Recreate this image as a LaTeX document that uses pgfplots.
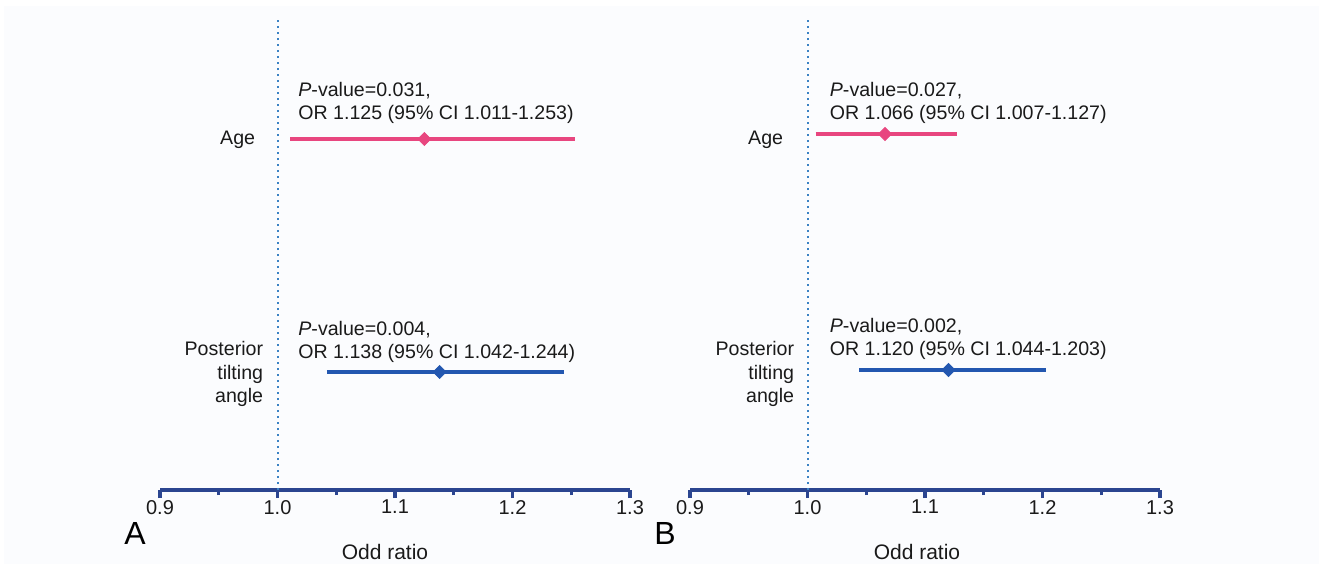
\documentclass[border=0pt]{standalone}
\usepackage{pgfplots}
\pgfplotsset{compat=1.18}
\usepackage{fontspec}
\setmainfont{Liberation Sans}
\definecolor{pinkc}{HTML}{E8467F}
\definecolor{bluec}{HTML}{2357B0}
\definecolor{navyc}{HTML}{2B4590}
\definecolor{dotc}{HTML}{3B82C4}
\definecolor{textc}{HTML}{1A1A1A}
\definecolor{bgc}{HTML}{FBFCFE}
\tikzset{lab/.style={font=\fontsize{9.8}{11.5}\selectfont, text=textc, inner sep=0pt}}
\pgfplotsset{
  forest/.style={
    scale only axis, width=235pt, height=235pt,
    xmin=0.9, xmax=1.3, ymin=0, ymax=470,
    axis x line*=bottom, axis y line=none,
    axis line style={-, navyc, line width=1.7pt},
    xtick={0.9,1.0,1.1,1.2,1.3},
    minor xtick={0.95,1.05,1.15,1.25},
    tick align=outside,
    major tick length=4pt, minor tick length=2.5pt,
    tick style={navyc, line width=1.7pt},
    minor tick style={navyc, line width=1.7pt},
    xticklabel style={font=\fontsize{10}{11}\selectfont, text=textc, yshift=2.5pt},
    /pgf/number format/.cd, fixed, fixed zerofill, precision=1, assume math mode=true,
    /pgfplots/.cd,
    clip=false,
  },
  reflineA/.style={dotc, line width=1pt, dash pattern=on 1pt off 2pt, no marks},
  dmark/.style={only marks, mark=square*, mark size=2.3pt, mark options={rotate=45}},
}
\begin{document}
\begin{tikzpicture}
\fill[bgc] (2pt,0) rectangle (659.5pt,279pt);
\path[use as bounding box] (0,0) rectangle (659.5pt,282pt);
% Panel A
\begin{axis}[forest, at={(80pt,37pt)}, anchor=south west]
\addplot[reflineA] coordinates {(1,0) (1,470)};
\addplot[pinkc, line width=2pt, no marks] coordinates {(1.011,351) (1.253,351)};
\addplot[pinkc, dmark] coordinates {(1.125,351)};
\addplot[bluec, line width=2pt, no marks] coordinates {(1.042,118) (1.244,118)};
\addplot[bluec, dmark] coordinates {(1.138,118)};
\node[lab, anchor=east] at ([xshift=-11pt]axis cs:1,350) {Age};
\node[lab, anchor=east, align=right, font=\fontsize{9.8}{11.7}\selectfont] at ([xshift=-7pt]axis cs:1,116) {Posterior\\tilting\\angle};
\node[lab, anchor=west, align=left] at ([xshift=10.25pt]axis cs:1,387.5) {\textit{P}-value=0.031,\\OR 1.125 (95\% CI 1.011-1.253)};
\node[lab, anchor=west, align=left] at ([xshift=10.25pt]axis cs:1,148) {\textit{P}-value=0.004,\\OR 1.138 (95\% CI 1.042-1.244)};
\node[font=\fontsize{10.5}{12}\selectfont, text=textc] at ([xshift=-5pt, yshift=-31pt]rel axis cs:0.5,0) {Odd ratio};
\node[font=\fontsize{16}{18}\selectfont, text=black] at ([xshift=-12.5pt, yshift=-21.5pt]rel axis cs:0,0) {A};
\end{axis}
% Panel B
\begin{axis}[forest, at={(345pt,37pt)}, anchor=south west]
\addplot[reflineA] coordinates {(1,0) (1,470)};
\addplot[pinkc, line width=2pt, no marks] coordinates {(1.007,356) (1.127,356)};
\addplot[pinkc, dmark] coordinates {(1.066,356)};
\addplot[bluec, line width=2pt, no marks] coordinates {(1.044,120) (1.203,120)};
\addplot[bluec, dmark] coordinates {(1.120,120)};
\node[lab, anchor=east] at ([xshift=-12pt]axis cs:1,350) {Age};
\node[lab, anchor=east, align=right, font=\fontsize{9.8}{11.7}\selectfont] at ([xshift=-6.5pt]axis cs:1,116) {Posterior\\tilting\\angle};
\node[lab, anchor=west, align=left] at ([xshift=11pt]axis cs:1,387.5) {\textit{P}-value=0.027,\\OR 1.066 (95\% CI 1.007-1.127)};
\node[lab, anchor=west, align=left] at ([xshift=11pt]axis cs:1,151) {\textit{P}-value=0.002,\\OR 1.120 (95\% CI 1.044-1.203)};
\node[font=\fontsize{10.5}{12}\selectfont, text=textc] at ([xshift=-4pt, yshift=-31pt]rel axis cs:0.5,0) {Odd ratio};
\node[font=\fontsize{16}{18}\selectfont, text=black] at ([xshift=-12.5pt, yshift=-21.5pt]rel axis cs:0,0) {B};
\end{axis}
\end{tikzpicture}
\end{document}
